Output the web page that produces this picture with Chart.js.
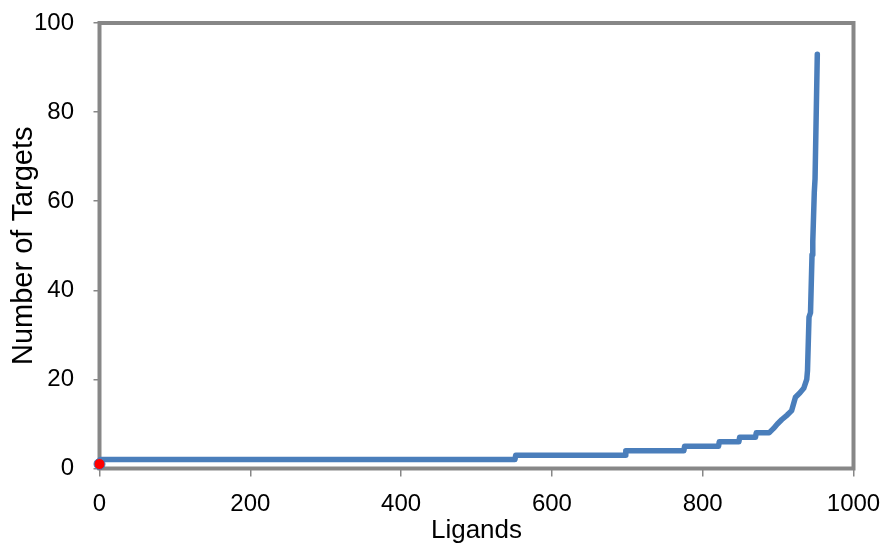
<!DOCTYPE html>
<html>
<head>
<meta charset="utf-8">
<script src="https://cdn.jsdelivr.net/npm/chart.js@4/dist/chart.umd.min.js"></script>
<style>
  html, body { margin: 0; padding: 0; background: #fff; }
  #wrap { width: 886px; height: 546px; }
</style>
</head>
<body>
<div id="wrap"><canvas id="chart" width="886" height="546"></canvas></div>
<script>
// ligand rank (x) and number of targets (y), corners of the sorted curve
const ligands = [0, 1, 551, 552, 697, 698, 775, 776, 821, 822, 848, 849, 870, 871, 888, 894, 899, 905, 912, 918, 923, 929, 934, 938, 939, 941, 943, 945, 946, 948, 949, 952];
const targets = [1, 2, 2, 3, 3, 4, 4, 5, 5, 6, 6, 7, 7, 8, 8, 9, 10, 11, 12, 13, 16, 17, 18, 20, 22, 34, 35, 48, 51, 62, 65, 93];

const markLigand = [0];
const markTargets = [1];

const xTicks = [0, 200, 400, 600, 800, 1000];
const yTicks = [0, 20, 40, 60, 80, 100];

const lineColor = "#4a7ebb";
const frameColor = "#878787";
const fontFamily = "'Liberation Sans', Arial, sans-serif";

const frame = {
  id: "frame",
  beforeDatasetsDraw(chart) {
    const { ctx, chartArea } = chart;
    ctx.save();
    ctx.strokeStyle = frameColor;
    ctx.lineWidth = 4;
    ctx.strokeRect(chartArea.left, chartArea.top, chartArea.right - chartArea.left, chartArea.bottom - chartArea.top);
    ctx.restore();
  }
};

new Chart(document.getElementById("chart"), {
  type: "line",
  data: {
    datasets: [
      {
        data: markLigand.map((x, i) => ({ x, y: markTargets[i] })),
        pointRadius: 5.5,
        pointBackgroundColor: "#ff0000",
        pointBorderColor: lineColor,
        pointBorderWidth: 1,
        showLine: false,
        clip: false
      },
      {
        data: ligands.map((x, i) => ({ x, y: targets[i] })),
        borderColor: lineColor,
        borderWidth: 5.5,
        borderCapStyle: "round",
        borderJoinStyle: "round",
        pointRadius: 0,
        tension: 0,
        clip: false
      }
    ]
  },
  options: {
    responsive: false,
    animation: false,
    layout: { padding: { left: 0, top: 23, right: 32.5, bottom: 0 } },
    plugins: { legend: { display: false }, tooltip: { enabled: false } },
    scales: {
      x: {
        type: "linear",
        min: 0,
        max: 1000,
        afterBuildTicks: s => { s.ticks = xTicks.map(v => ({ value: v })); },
        afterFit: s => { s.height = 77.5; s.paddingLeft = 0; s.paddingRight = 0; },
        grid: { drawOnChartArea: false, drawTicks: true, tickLength: 8, color: frameColor, lineWidth: 1.5 },
        border: { display: false },
        ticks: { color: "#000", padding: 13.5, maxRotation: 0, callback: v => String(v), font: { family: fontFamily, size: 24 } },
        title: {
          display: true,
          text: "Ligands",
          color: "#000",
          padding: { top: 0, bottom: 2 },
          font: { family: fontFamily, size: 26, lineHeight: 1 }
        }
      },
      y: {
        min: 0,
        max: 100,
        afterBuildTicks: s => { s.ticks = yTicks.map(v => ({ value: v })); },
        afterFit: s => { s.width = 99.5; s.paddingTop = 0; s.paddingBottom = 0; },
        grid: { drawOnChartArea: false, drawTicks: true, tickLength: 6, color: frameColor, lineWidth: 1.5 },
        border: { display: false },
        ticks: { color: "#000", padding: 19.5, callback: v => String(v), font: { family: fontFamily, size: 24 } },
        title: {
          display: true,
          text: "Number of Targets",
          color: "#000",
          padding: { top: 9, bottom: 0 },
          font: { family: fontFamily, size: 29, lineHeight: 1 }
        }
      }
    }
  },
  plugins: [frame]
});
</script>
</body>
</html>
